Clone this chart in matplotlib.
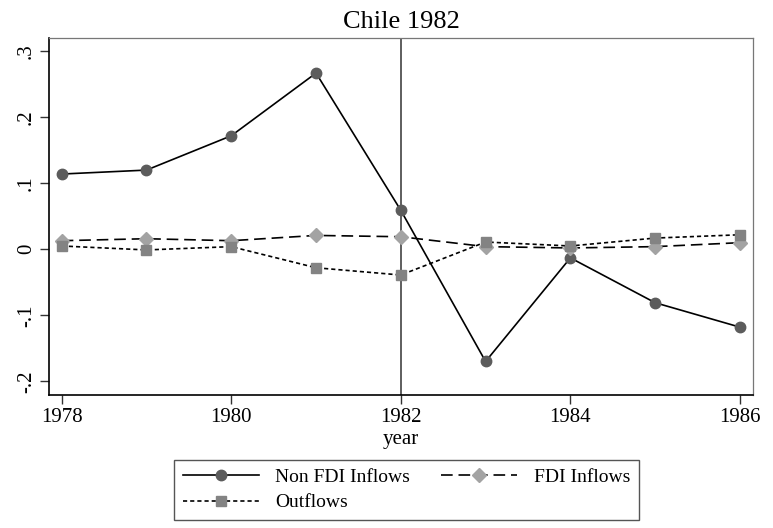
import numpy as np
from matplotlib import pyplot as plt

plt.rcParams['font.family'] = ['Liberation Serif', 'DejaVu Serif']

years = [1978, 1979, 1980, 1981, 1982, 1983, 1984, 1985, 1986]
non_fdi = [0.114, 0.120, 0.172, 0.267, 0.059, -0.170, -0.013, -0.081, -0.118]
fdi = [0.013, 0.016, 0.013, 0.021, 0.019, 0.004, 0.002, 0.004, 0.010]
outflows = [0.005, -0.001, 0.004, -0.028, -0.039, 0.011, 0.005, 0.017, 0.022]
yticks = [-0.2, -0.1, 0, 0.1, 0.2, 0.3]
ytick_labels = ['-.2', '-.1', '0', '.1', '.2', '.3']
xticks = [1978, 1980, 1982, 1984, 1986]

fig = plt.figure(figsize=(7.73, 5.28), dpi=100)
ax = fig.add_axes([0.0638, 0.2519, 0.9099, 0.6767])

ax.axvline(1982, color='#333333', lw=1.1, zorder=1)
l1, = ax.plot(years, non_fdi, color='black', lw=1.2, marker='o', ms=7.5,
              mfc='#5c5c5c', mec='#5c5c5c', zorder=3, label='Non FDI Inflows')
l2, = ax.plot(years, fdi, color='black', lw=1.2, ls=(0, (7, 3.5)), marker='D', ms=7,
              mfc='#a3a3a3', mec='#a3a3a3', zorder=3, label='FDI Inflows')
l3, = ax.plot(years, outflows, color='black', lw=1.2, ls=(0, (2.5, 1.8)), marker='s', ms=7,
              mfc='#838383', mec='#838383', zorder=3, label='Outflows')

ax.set_xlim(1977.854, 1986.15)
ax.set_ylim(-0.2208, 0.3206)
ax.set_xticks(xticks)
ax.set_xticklabels([str(x) for x in xticks], fontsize=15)
ax.set_yticks(yticks)
ax.set_yticklabels(ytick_labels, fontsize=15, rotation=90, va='center')
ax.set_xlabel('year', fontsize=15, labelpad=2)
ax.set_title('Chile 1982', fontsize=19, pad=7)

for s in ['top', 'right']:
    ax.spines[s].set_color('#777777')
    ax.spines[s].set_linewidth(0.9)
for s in ['left', 'bottom']:
    ax.spines[s].set_color('black')
    ax.spines[s].set_linewidth(1.2)
ax.tick_params(length=6.5, width=1, color='#333333', pad=3)

leg = fig.legend([l1, l3, l2], ['Non FDI Inflows', 'Outflows', 'FDI Inflows'],
                 ncol=2, loc='center', bbox_to_anchor=(0.526, 0.0720),
                 fontsize=14, fancybox=False, edgecolor='#555555', framealpha=1,
                 handlelength=3.9, columnspacing=1.6, labelspacing=0.4,
                 borderpad=0.45, handletextpad=0.85)
leg.get_frame().set_linewidth(1.0)

fig.savefig('out.png', dpi=100)
